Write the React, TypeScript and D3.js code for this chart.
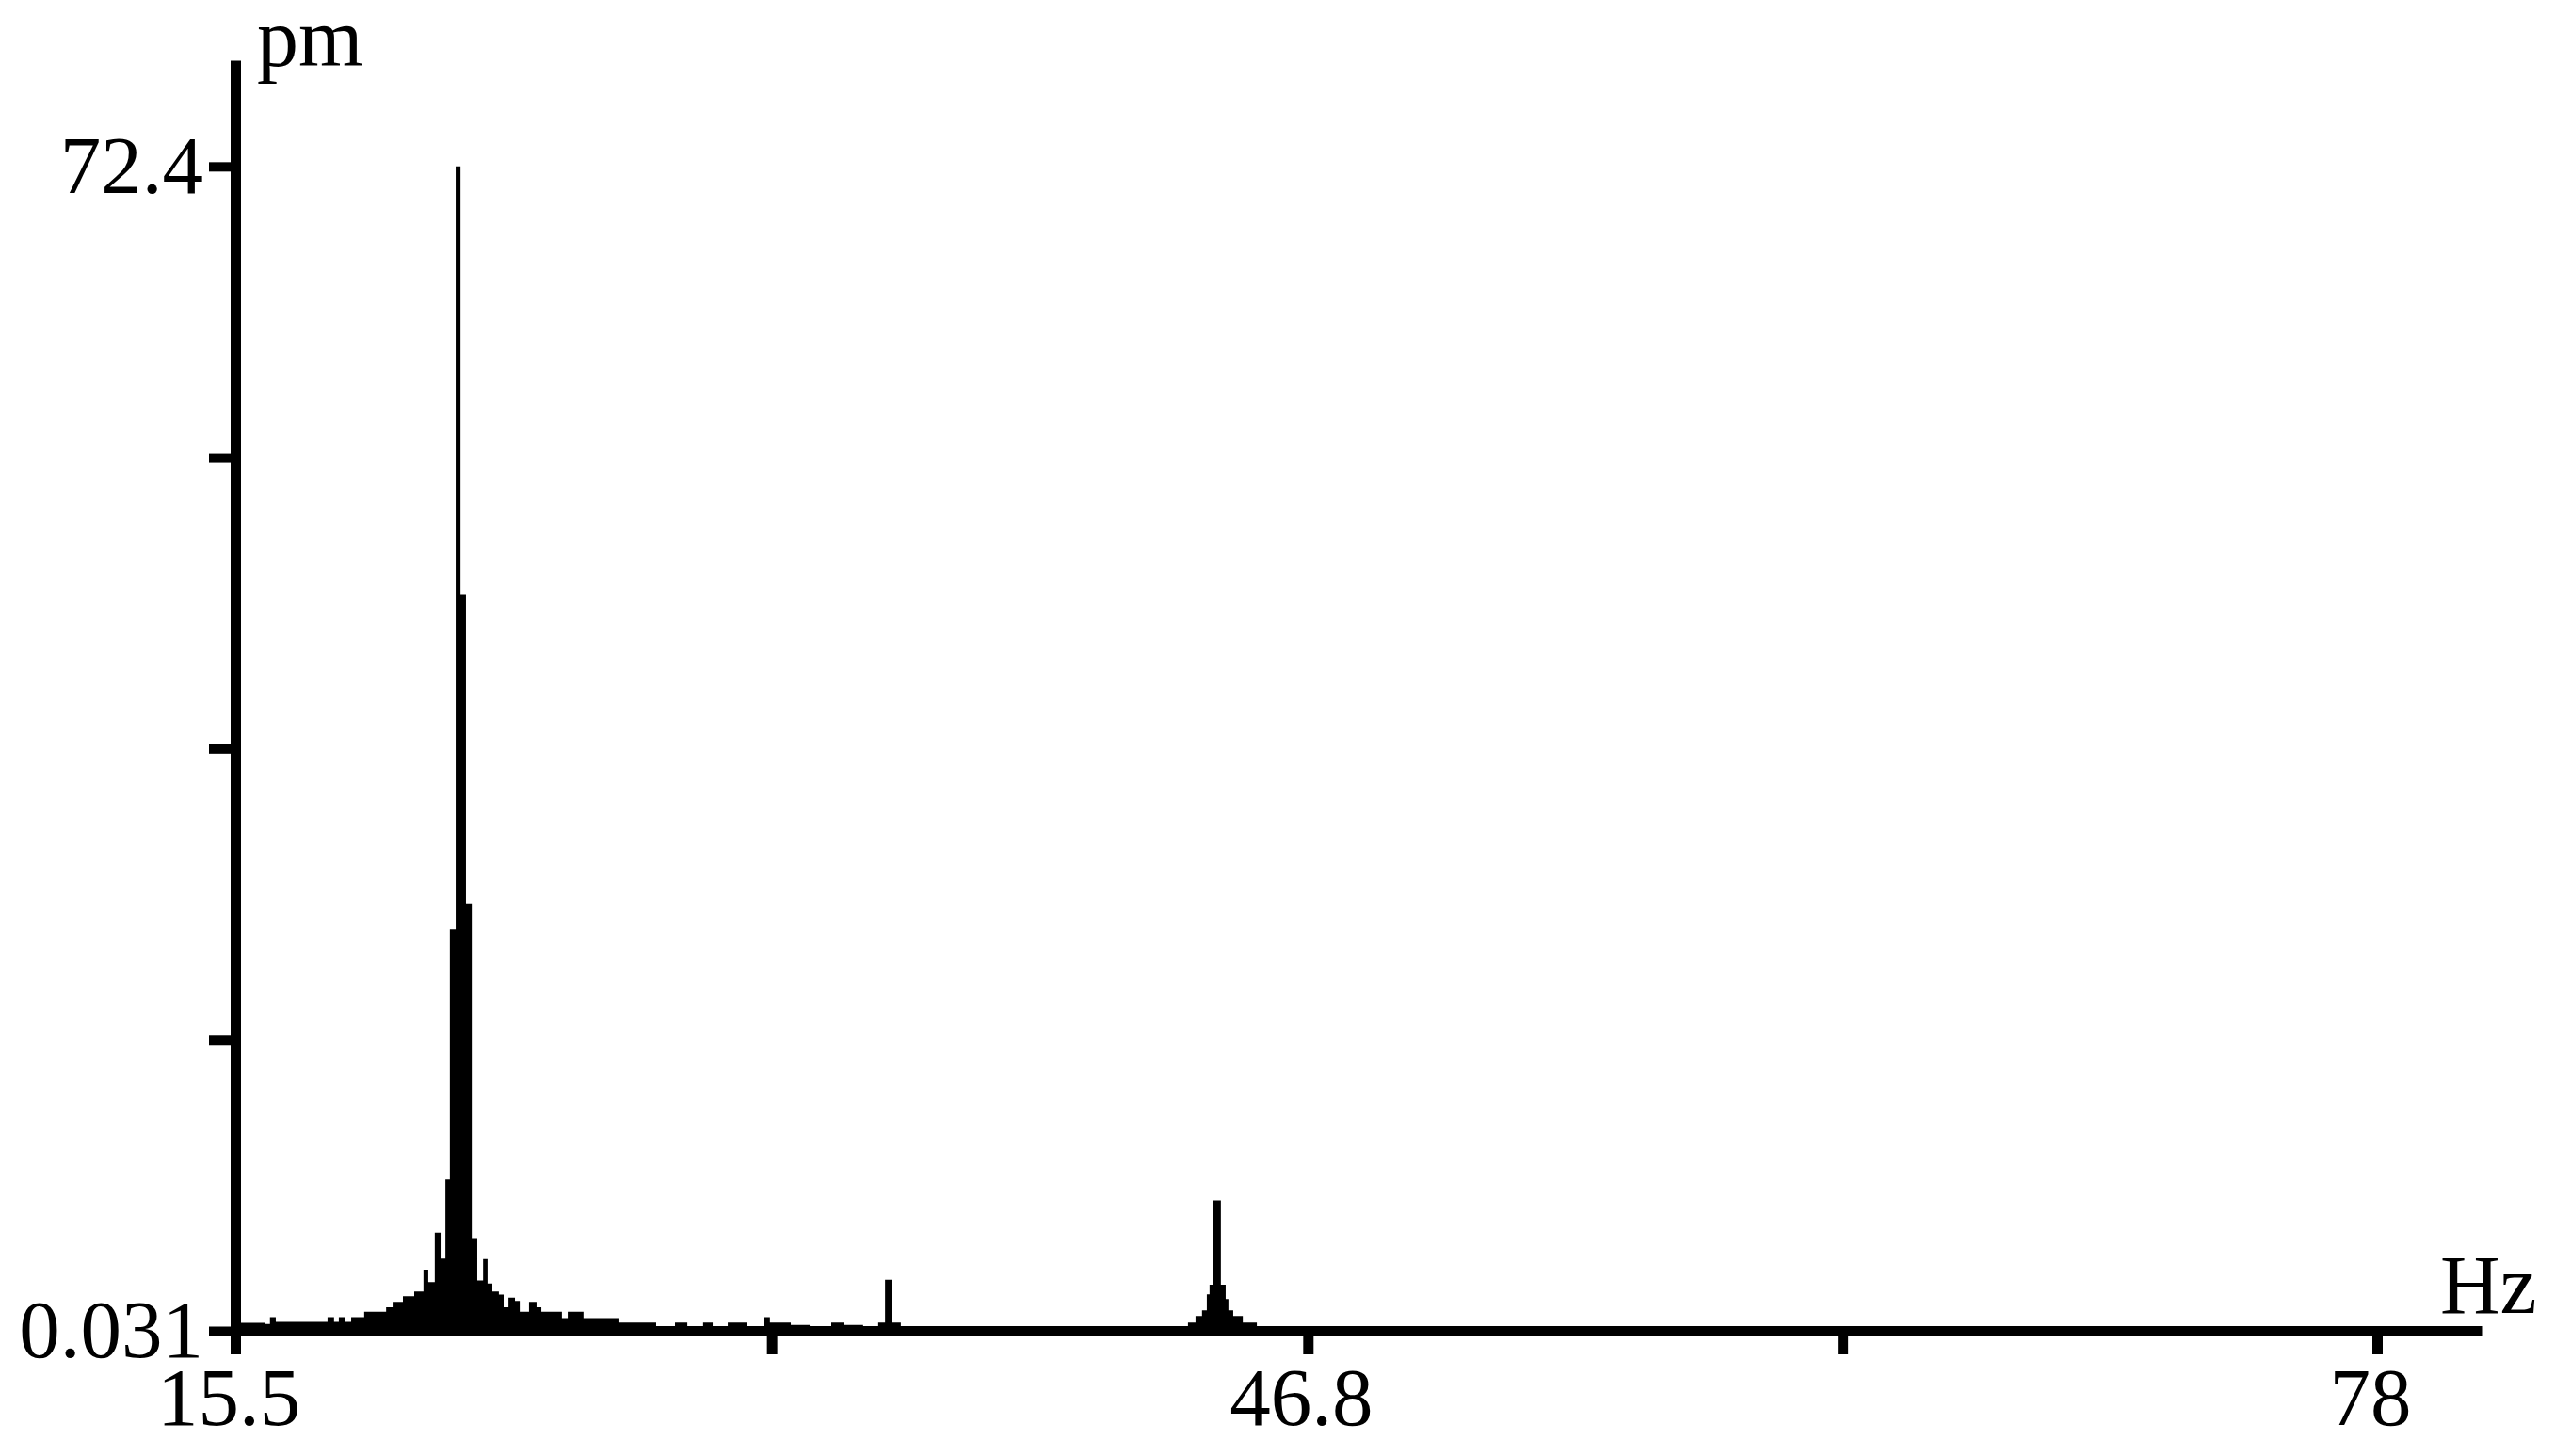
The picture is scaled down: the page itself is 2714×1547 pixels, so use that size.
import { useRef, useEffect } from "react";
import * as d3 from "d3";

// Amplitude spectrum, read off the reference as step segments:
// each amplitude holds from its bin start up to the next bin start.
const binStartHz = [
  15.5, 16.38, 16.51, 16.68, 18.19, 18.38, 18.52, 18.71, 18.88, 19.26,
  19.9, 20.09, 20.39, 20.72, 20.99, 21.13, 21.32, 21.49, 21.63, 21.76,
  21.93, 22.07, 22.23, 22.4, 22.56, 22.73, 22.86, 23.0, 23.19, 23.33,
  23.47, 23.66, 23.8, 24.07, 24.29, 24.43, 25.03, 25.2, 25.66, 26.68,
  27.78, 28.33, 28.69, 29.15, 29.43, 29.87, 30.42, 30.94, 31.1, 31.71,
  32.26, 32.89, 33.27, 33.82, 34.26, 34.46, 34.65, 34.92, 43.3, 43.52,
  43.71, 43.85, 43.93, 44.04, 44.26, 44.4, 44.48, 44.62, 44.9, 45.31,
  80.0,
];

const amplitudePm = [
  0.53, 0.45, 0.88, 0.59, 0.88, 0.59, 0.88, 0.59, 0.88, 1.21,
  1.5, 1.83, 2.18, 2.48, 3.84, 3.06, 6.13, 4.52, 9.44, 25.0,
  72.4, 45.8, 26.6, 5.79, 3.16, 4.49, 2.97, 2.48, 2.28, 1.5,
  2.09, 1.89, 1.21, 1.83, 1.5, 1.21, 0.82, 1.21, 0.82, 0.55,
  0.3, 0.55, 0.3, 0.55, 0.3, 0.55, 0.3, 0.88, 0.55, 0.4,
  0.3, 0.55, 0.4, 0.3, 0.55, 3.2, 0.55, 0.2, 0.55, 0.95,
  1.3, 2.3, 2.9, 8.13, 2.9, 2.0, 1.3, 0.95, 0.55, 0.2,
  0.2,
];

const xTickValues = [15.5, 31.15, 46.8, 62.4, 78];
const xTickLabels = ["15.5", "", "46.8", "", "78"];
const yTickValues = [0.031, 18.12, 36.22, 54.31, 72.4];
const yTickLabels = ["0.031", "", "", "", "72.4"];

const xDomain: [number, number] = [15.5, 81.05];
const yDomain: [number, number] = [0.031, 79.0];

export default function App() {
  const svgRef = useRef<SVGSVGElement>(null);
  const width = 2714;
  const height = 1547;

  useEffect(() => {
    if (!svgRef.current) return;
    const svg = d3.select(svgRef.current);
    svg.selectAll("*").remove();

    const x = d3.scaleLinear().domain(xDomain).range([250, 2636]);
    const y = d3.scaleLinear().domain(yDomain).range([1414, 64]);

    const data = binStartHz.map((f, i) => ({ f, v: amplitudePm[i] }));

    const area = d3
      .area<{ f: number; v: number }>()
      .x((d) => x(d.f))
      .y0(y(yDomain[0]))
      .y1((d) => y(d.v))
      .curve(d3.curveStepAfter);

    svg.append("path").datum(data).attr("d", area).attr("fill", "#000").attr("stroke", "none");

    const font = "'Liberation Serif', 'Times New Roman', serif";

    // Y axis
    const yAxis = svg
      .append("g")
      .attr("transform", `translate(${x(xDomain[0])},0)`)
      .call(
        d3.axisLeft(y).tickValues(yTickValues).tickSize(28).tickSizeOuter(0).tickFormat(() => "")
      );
    yAxis.select(".domain").attr("stroke", "#000").attr("stroke-width", 11);
    yAxis.selectAll(".tick line").attr("stroke", "#000").attr("stroke-width", 10);

    // X axis
    const xAxis = svg
      .append("g")
      .attr("transform", `translate(0,${y(yDomain[0])})`)
      .call(
        d3.axisBottom(x).tickValues(xTickValues).tickSize(25).tickSizeOuter(0).tickFormat(() => "")
      );
    xAxis.select(".domain").attr("stroke", "#000").attr("stroke-width", 11);
    xAxis.selectAll(".tick line").attr("stroke", "#000").attr("stroke-width", 11);

    // Tick labels
    yTickValues.forEach((v, i) => {
      if (!yTickLabels[i]) return;
      svg
        .append("text")
        .attr("x", 216)
        .attr("y", y(v) + 28)
        .attr("text-anchor", "end")
        .style("font-family", font)
        .style("font-size", "87px")
        .text(yTickLabels[i]);
    });

    xTickValues.forEach((v, i) => {
      if (!xTickLabels[i]) return;
      svg
        .append("text")
        .attr("x", x(v) - 7)
        .attr("y", 1514)
        .attr("text-anchor", "middle")
        .style("font-family", font)
        .style("font-size", "87px")
        .text(xTickLabels[i]);
    });

    // Unit labels
    svg
      .append("text")
      .attr("x", 273)
      .attr("y", 70)
      .style("font-family", font)
      .style("font-size", "88px")
      .text("pm");

    svg
      .append("text")
      .attr("x", 2592)
      .attr("y", 1395)
      .style("font-family", font)
      .style("font-size", "88px")
      .text("Hz");
  }, []);

  return (
    <svg
      ref={svgRef}
      width={width}
      height={height}
      style={{ position: "absolute", left: 0, top: 0, background: "#fff" }}
    />
  );
}
